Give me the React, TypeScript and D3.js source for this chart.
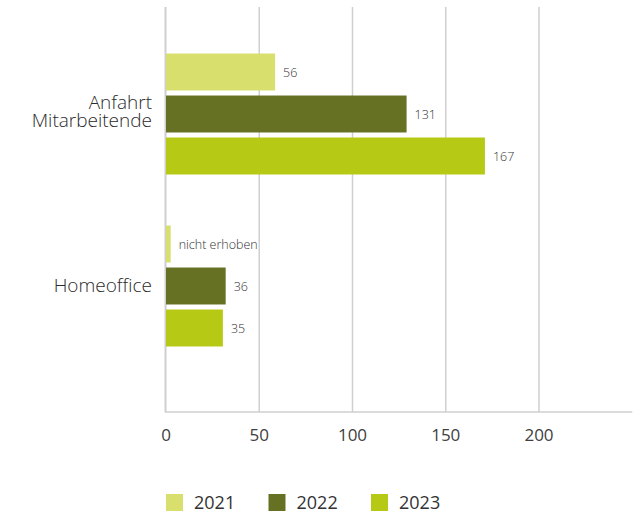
import React from "react";
import * as d3 from "d3";

const categories = ["Anfahrt Mitarbeitende", "Homeoffice"];
const years = ["2021", "2022", "2023"];
const colors = ["#d8df6d", "#667124", "#b6c914"];
// bar lengths as drawn, per category, per year
const values2021 = [58.5, 2.5];
const values2022 = [129, 32];
const values2023 = [171, 30.5];
const labels2021 = ["56", "nicht erhoben"];
const labels2022 = ["131", "36"];
const labels2023 = ["167", "35"];
const xTicks = [0, 50, 100, 150, 200];
const gridTicks = [50, 100, 150, 200];

const seriesValues = [values2021, values2022, values2023];
const seriesLabels = [labels2021, labels2022, labels2023];

export default function App() {
  const W = 641;
  const H = 513;
  const x0 = 166;
  const axisY = 412;
  const gridTop = 7;
  const x = d3.scaleLinear().domain([0, 250]).range([x0, x0 + 250 * 1.865]);
  const y = d3.scaleBand().domain(categories).range([27, 371]).padding(0);
  const ySub = d3
    .scaleBand()
    .domain(years)
    .range([24, 150])
    .paddingInner(0.12)
    .paddingOuter(0.06);

  const catFont = "'Open Sans', 'Noto Sans', sans-serif";
  const numFont = "'Open Sans', 'Noto Sans', sans-serif";

  return (
    <svg
      width={W}
      height={H}
      style={{ position: "absolute", left: 0, top: 0, background: "#fff" }}
    >
      {gridTicks.map((t) => (
        <line
          key={t}
          x1={x(t)}
          x2={x(t)}
          y1={gridTop}
          y2={axisY}
          stroke="#cfcfcf"
          strokeWidth={1.5}
        />
      ))}
      <line x1={x0 - 0.5} x2={x0 - 0.5} y1={gridTop} y2={axisY} stroke="#cfcfcf" strokeWidth={2} />
      <line x1={x0 - 1} x2={x(250)} y1={axisY} y2={axisY} stroke="#cfcfcf" strokeWidth={1.5} />
      {categories.map((c, ci) => (
        <g key={c}>
          {years.map((yr, si) => {
            const v = seriesValues[si][ci];
            const by = (y(c) as number) + (ySub(yr) as number);
            const bh = ySub.bandwidth();
            return (
              <g key={yr}>
                <rect x={x(0)} y={by} width={x(v) - x(0)} height={bh} fill={colors[si]} />
                <text
                  x={x(v) + 8}
                  y={by + bh / 2}
                  dominantBaseline="central"
                  fontFamily={numFont}
                  fontWeight={300}
                  fontSize={12.5}
                  fill="#333"
                >
                  {seriesLabels[si][ci]}
                </text>
              </g>
            );
          })}
        </g>
      ))}
      {categories.map((c) => {
        const lines = c === "Anfahrt Mitarbeitende" ? ["Anfahrt", "Mitarbeitende"] : [c];
        const cy = (y(c) as number) + y.bandwidth() / 2 - (lines.length > 1 ? 2.5 : 0);
        const lh = 18;
        return (
          <text
            key={c}
            x={152}
            textAnchor="end"
            fontFamily={catFont}
            fontWeight={300}
            fontSize={19}
            fill="#2a2a2a"
          >
            {lines.map((l, i) => (
              <tspan
                key={l}
                x={152}
                y={cy + (i - (lines.length - 1) / 2) * lh}
                dominantBaseline="central"
              >
                {l}
              </tspan>
            ))}
          </text>
        );
      })}
      {xTicks.map((t) => (
        <text
          key={t}
          x={x(t)}
          y={434}
          textAnchor="middle"
          dominantBaseline="central"
          fontFamily={numFont}
          fontSize={17}
          fill="#404040"
        >
          {t}
        </text>
      ))}
      {years.map((yr, i) => {
        const lx = 166 + i * 102.5;
        return (
          <g key={yr}>
            <rect x={lx} y={494} width={17} height={17} fill={colors[i]} />
            <text
              x={lx + 28}
              y={502}
              dominantBaseline="central"
              fontFamily={numFont}
              fontSize={18}
              fill="#333"
            >
              {yr}
            </text>
          </g>
        );
      })}
    </svg>
  );
}
